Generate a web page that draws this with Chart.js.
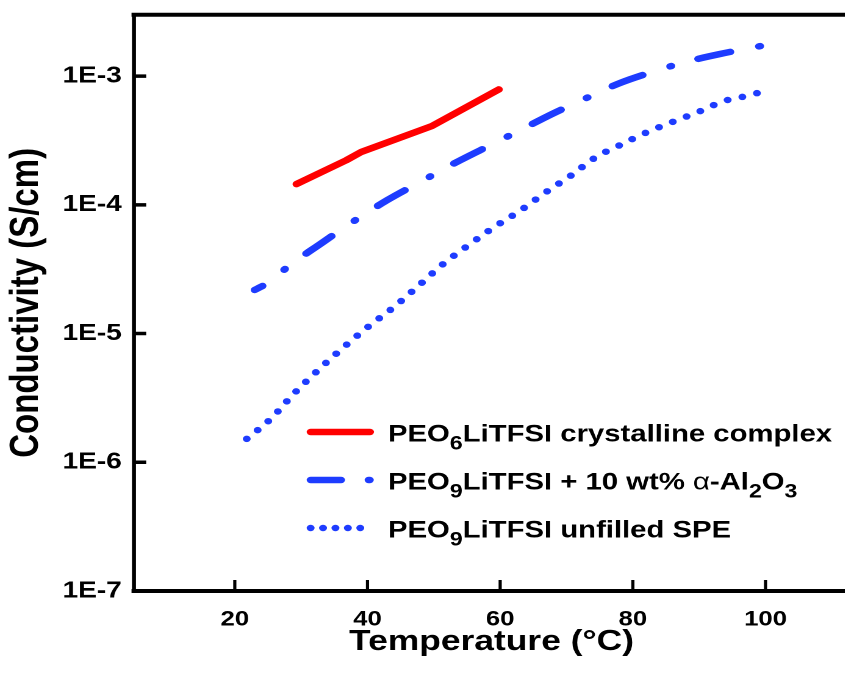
<!DOCTYPE html>
<html>
<head>
<meta charset="utf-8">
<script src="https://cdn.jsdelivr.net/npm/chart.js@4.4.1/dist/chart.umd.min.js"></script>
<style>
  html, body { margin: 0; padding: 0; background: #fff; overflow: hidden; width: 845px; height: 682px; }
  /* the figure is set slightly wide, so the whole canvas is stretched sideways */
  #wrap { transform: scaleX(1.22); transform-origin: 0 0; width: 700px; height: 682px; }
</style>
</head>
<body>
<div id="wrap"><canvas id="cond" width="700" height="682"></canvas></div>
<script>
// Ionic conductivity vs temperature for three PEO/LiTFSI electrolytes
const xTicks = [20, 40, 60, 80, 100];
const yTicks = [1e-7, 1e-6, 1e-5, 1e-4, 1e-3];

// PEO6LiTFSI crystalline complex
const crystTemp = [29.3, 36.8, 39.1, 49.7, 59.8];
const crystCond = [1.45e-4, 2.22e-4, 2.58e-4, 4.09e-4, 7.88e-4];

// PEO9LiTFSI + 10 wt% alumina
const filledTemp = [23.0, 25.5, 28.0, 33.0, 38.0, 43.0, 48.0, 53.0, 58.0, 63.0, 68.0, 73.0, 78.0, 83.0, 88.0, 93.0, 99.2];
const filledCond = [2.18e-5, 2.57e-5, 3.31e-5, 5.01e-5, 7.50e-5, 1.09e-4, 1.51e-4, 2.09e-4, 2.82e-4, 3.80e-4, 5.13e-4, 6.76e-4, 8.81e-4, 1.08e-3, 1.29e-3, 1.48e-3, 1.71e-3];

// PEO9LiTFSI unfilled SPE
const plainTemp = [21.8, 25.4, 28.9, 32.7, 36.5, 40.3, 44.2, 47.8, 51.4, 55.3, 59.1, 63.0, 66.8, 70.6, 74.4, 78.3, 82.1, 85.9, 89.8, 93.7, 97.5, 99.4];
const plainCond = [1.52e-6, 2.17e-6, 3.41e-6, 5.28e-6, 7.91e-6, 1.15e-5, 1.64e-5, 2.38e-5, 3.47e-5, 4.89e-5, 6.72e-5, 9.0e-5, 1.245e-4, 1.68e-4, 2.34e-4, 2.95e-4, 3.66e-4, 4.39e-4, 5.25e-4, 6.39e-4, 7.08e-4, 7.55e-4];

// legend text pieces: [text, kind]
const legendLabels = [
  [['PEO'], ['6', 'sub'], ['LiTFSI crystalline complex']],
  [['PEO'], ['9', 'sub'], ['LiTFSI + 10 wt% '], ['\u03b1', 'greek'], ['-Al'], ['2', 'sub'], ['O'], ['3', 'sub']],
  [['PEO'], ['9', 'sub'], ['LiTFSI unfilled SPE']]
];

const RED = '#ff0000';
const BLUE = '#1e3cff';
const FONT = '"Liberation Sans", Arial, sans-serif';

// long-short dash: [long, gap, short, gap]; the curve starts part way into a long
// dash and ends on a short one after six full cycles
const DASH = [27, 24, 1, 23];
const DASH_START = 19.5;
const DASH_CYCLES = 6;

function pairs(xs, ys) {
  return xs.map((x, i) => ({ x: x, y: ys[i] }));
}

// frame with inward ticks on the bottom and left
const framePlugin = {
  id: 'frame',
  afterDatasetsDraw(chart) {
    const { ctx, chartArea: a, scales } = chart;
    ctx.save();
    ctx.strokeStyle = '#000';
    ctx.lineCap = 'square';
    ctx.lineWidth = 4;
    ctx.beginPath();
    ctx.moveTo(a.left, a.top); ctx.lineTo(a.right, a.top);
    ctx.moveTo(a.left, a.bottom); ctx.lineTo(a.right, a.bottom);
    ctx.stroke();
    ctx.lineWidth = 3.3;
    ctx.beginPath();
    ctx.moveTo(a.left, a.top); ctx.lineTo(a.left, a.bottom);
    ctx.moveTo(a.right, a.top); ctx.lineTo(a.right, a.bottom);
    ctx.stroke();

    ctx.lineCap = 'butt';
    ctx.lineWidth = 2.6;
    ctx.beginPath();
    xTicks.forEach(v => {
      const px = scales.x.getPixelForValue(v);
      ctx.moveTo(px, a.bottom); ctx.lineTo(px, a.bottom - 11);
    });
    ctx.stroke();
    ctx.lineWidth = 3.5;
    ctx.beginPath();
    yTicks.forEach(v => {
      const py = scales.y.getPixelForValue(v);
      ctx.moveTo(a.left, py); ctx.lineTo(a.left + 10, py);
    });
    ctx.stroke();
    ctx.restore();
  }
};

// legend with subscripts, drawn inside the plot
const legendPlugin = {
  id: 'subLegend',
  afterDraw(chart) {
    const { ctx } = chart;
    const rows = [432, 480, 528];
    const x0 = 254.6, x1 = 303.3, tx = 318;
    ctx.save();
    chart.data.datasets.forEach((ds, i) => {
      const y = rows[i];
      ctx.strokeStyle = ds.borderColor;
      ctx.lineWidth = ds.borderWidth;
      ctx.lineCap = 'round';
      ctx.beginPath();
      if (ds.legendDots) {
        ctx.setLineDash([0, (x1 - x0 - 8) / 4]);
        ctx.moveTo(x0, y); ctx.lineTo(x1 - 7, y);
      } else if (ds.borderDash) {
        ctx.setLineDash([25, 22.5, 1, 60]);
        ctx.moveTo(x0, y); ctx.lineTo(x1, y);
      } else {
        ctx.moveTo(x0, y); ctx.lineTo(x1, y);
      }
      ctx.stroke();
      ctx.setLineDash([]);

      let x = tx;
      const base = y + 9.5;
      ctx.fillStyle = '#000';
      ctx.textBaseline = 'alphabetic';
      legendLabels[i].forEach(([t, kind]) => {
        let yy = base;
        if (kind === 'sub') {
          ctx.font = 'bold 19px ' + FONT;
          yy = base + 8;
        } else if (kind === 'greek') {
          ctx.font = '24px ' + FONT;
        } else {
          ctx.font = 'bold 24px ' + FONT;
        }
        ctx.fillText(t, x, yy);
        x += ctx.measureText(t).width;
      });
    });
    ctx.restore();
  }
};

const chart = new Chart(document.getElementById('cond'), {
  type: 'line',
  data: {
    datasets: [
      {
        data: pairs(crystTemp, crystCond),
        borderColor: RED,
        borderWidth: 6.5,
        borderCapStyle: 'round',
        borderJoinStyle: 'round',
        tension: 0,
        pointRadius: 0
      },
      {
        data: pairs(filledTemp, filledCond),
        borderColor: BLUE,
        borderWidth: 6.5,
        borderCapStyle: 'round',
        borderDash: DASH,
        borderDashOffset: DASH_START,
        cubicInterpolationMode: 'monotone',
        pointRadius: 0
      },
      {
        data: pairs(plainTemp, plainCond),
        borderColor: BLUE,
        borderWidth: 6.5,
        borderCapStyle: 'round',
        borderDash: [0, 12.5],
        legendDots: true,
        cubicInterpolationMode: 'monotone',
        pointRadius: 0
      }
    ]
  },
  options: {
    responsive: false,
    devicePixelRatio: 2,
    animation: false,
    layout: { padding: { top: 14.7, right: 4, left: 0, bottom: 0 } },
    plugins: { legend: { display: false }, tooltip: { enabled: false } },
    scales: {
      x: {
        type: 'linear',
        min: 4.8,
        max: 112.6,
        afterBuildTicks: s => { s.ticks = xTicks.map(v => ({ value: v })); },
        afterFit: s => { s.height = 91; s.paddingLeft = 0; s.paddingRight = 0; },
        grid: { display: false, drawTicks: false },
        border: { display: false },
        ticks: {
          color: '#000',
          padding: 16,
          maxRotation: 0,
          font: { family: FONT, size: 21, weight: 'bold' }
        },
        title: {
          display: true,
          text: 'Temperature (\u00b0C)',
          color: '#000',
          padding: { top: 0, bottom: 22.6 },
          font: { family: FONT, size: 29, weight: 'bold' }
        }
      },
      y: {
        type: 'logarithmic',
        min: 1e-7,
        max: 3e-3,
        afterBuildTicks: s => { s.ticks = yTicks.map(v => ({ value: v })); },
        afterFit: s => { s.width = 109.8; s.paddingTop = 0; s.paddingBottom = 0; },
        grid: { display: false, drawTicks: false },
        border: { display: false },
        ticks: {
          color: '#000',
          padding: 10,
          font: { family: FONT, size: 23, weight: 'bold' },
          callback: v => '1E' + Math.round(Math.log10(v))
        },
        title: {
          display: true,
          text: 'Conductivity (S/cm)',
          color: '#000',
          padding: { top: 2, bottom: 0 },
          font: { family: FONT, size: 33, weight: 'bold' }
        }
      }
    }
  },
  plugins: [framePlugin, legendPlugin]
});

// stretch the dash cycle so the dashed curve ends on its short dash
(function fitDash() {
  const pts = chart.getDatasetMeta(1).data;
  let len = 0;
  for (let i = 1; i < pts.length; i++) {
    len += Math.hypot(pts[i].x - pts[i - 1].x, pts[i].y - pts[i - 1].y);
  }
  const period = DASH.reduce((s, v) => s + v, 0);
  const planned = (DASH[0] - DASH_START) + DASH_CYCLES * period + DASH[1] + DASH[2];
  const k = len / planned;
  const ds = chart.data.datasets[1];
  ds.borderDash = DASH.map(v => v * k);
  ds.borderDashOffset = DASH_START * k;
  chart.update('none');
})();
</script>
</body>
</html>
